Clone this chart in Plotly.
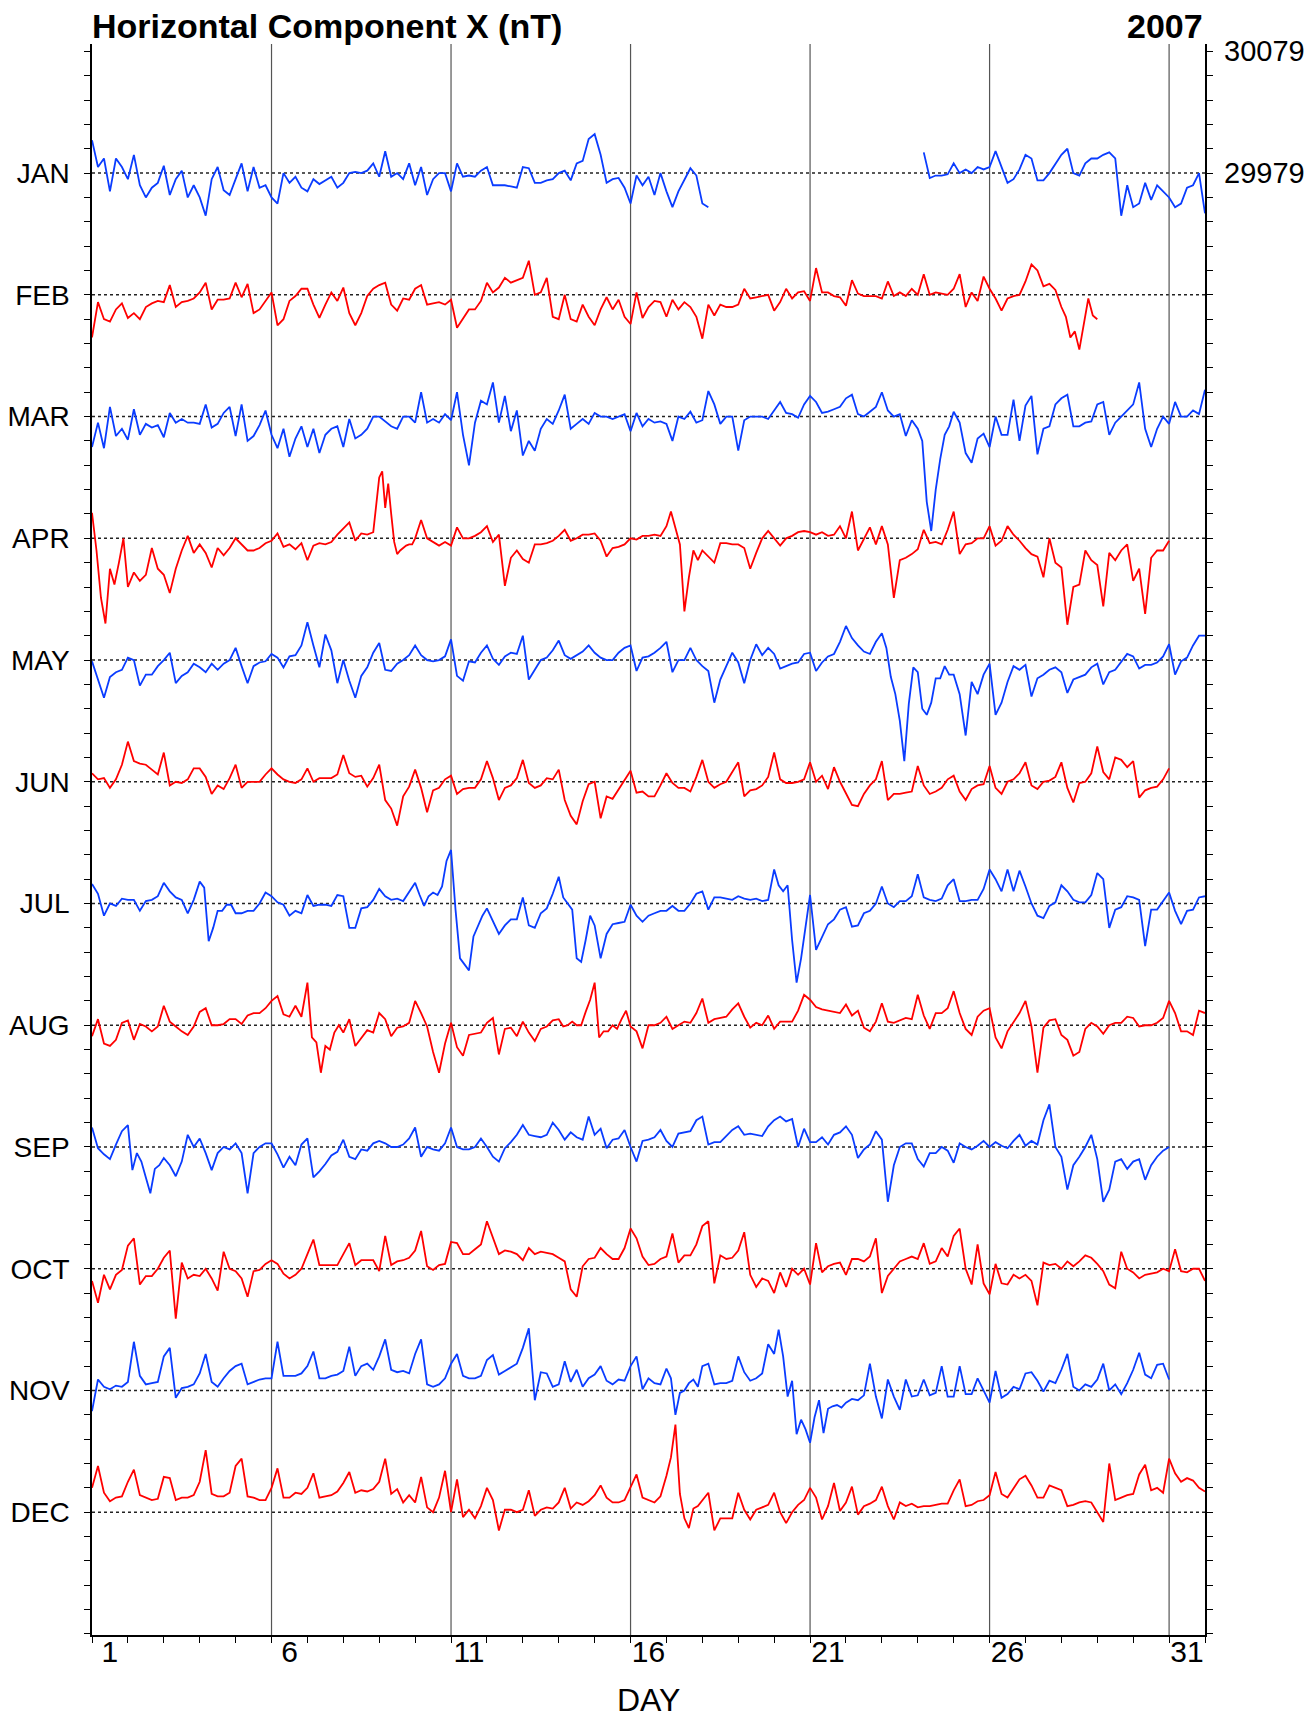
import plotly.graph_objects as go

# ---------------- data (nT deviation from each month's baseline, listed per day) -------------
MONTHS = ["JAN", "FEB", "MAR", "APR", "MAY", "JUN", "JUL", "AUG", "SEP", "OCT", "NOV", "DEC"]
YEAR = "2007"
REF_LABELS = ["30079", "29979"]
REF_VALUES = [100, 0]
DAY_LABELS = ["1", "6", "11", "16", "21", "26", "31"]
MONTH_STEP = 100  # nT between stacked months

JAN = [
    [27, 5, 12, -15, 12, 5], [-5, 15, -10, -20, -12, -8], [6, -18, -5, 2, -20, -10],
    [-20, -35, -5, 5, -14, -18], [-5, 8, -15, 5, -12, -10], [-20, -25, 0, -8, -3, -12],
    [-15, -5, -9, -6, -3, -12], [-8, 0, 1, 0, 2, 8], [-3, 18, -3, 0, -5, 8],
    [-10, 5, -18, -5, 0, 0], [-15, 8, -3, -2, -3, 2], [5, -10, -10, -10, -11, -12],
    [5, 4, -8, -8, -6, -5], [0, 2, -6, 8, 10, 28], [32, 15, -8, -5, -4, -12],
    [-25, -2, -10, -3, -18, 0], [-15, -28, -15, -5, 4, -2], [-25, -28, None, None, None, None],
    [None] * 6, [None] * 6, [None] * 6, [None] * 6, [None] * 6,
    [None, 17, -4, -2, -2, -1], [8, 0, 3, 0, 5, 3], [5, 18, 5, -8, -5, 3],
    [15, 12, -6, -6, 0, 8], [15, 20, 0, -2, 8, 12], [12, 15, 17, 12, -35, -10],
    [-28, -25, -8, -22, -10, -15], [-20, -28, -25, -12, -10, 0, -33],
]
FEB = [
    [-35, -6, -20, -22, -12, -7], [-19, -15, -20, -10, -7, -5], [-6, 8, -10, -6, -5, -3],
    [2, 10, -12, -4, -4, -3], [10, -2, 9, -15, -12, -5], [2, -25, -20, -5, -1, 5],
    [5, -8, -19, -8, 2, -5], [6, -15, -25, -15, -1, 5], [8, 10, -8, -13, -3, -4],
    [5, 8, -8, -7, -6, -8], [-4, -27, -20, -12, -12, -5], [10, 2, 6, 14, 10, 12],
    [14, 28, 0, 2, 14, -18], [-20, 0, -20, -22, -8, -18], [-25, -12, -2, -12, -4, -18],
    [-24, 2, -19, -10, -5, -6], [-18, -4, -12, -6, -10, -18], [-36, -8, -17, -8, -10, -10],
    [-8, 5, -3, -2, -1, 0], [-13, -6, 5, -3, 2, 3], [-5, 22, 2, 2, -1, -2],
    [-9, 12, 1, -1, -1, -1], [-3, 11, -1, 2, -1, 5], [0, 17, 0, 2, 1, 0],
    [5, 17, -10, 2, -5, 15], [5, -3, -13, -3, -1, 0], [11, 25, 20, 7, 9, 4],
    [-10, -18, -35, -30, -45, -25, -3, -17, -20],
]
MAR = [
    [-25, -5, -26, 8, -16, -10], [-19, 6, -15, -6, -9, -7], [-17, 3, -5, -2, -5, -5],
    [-6, 10, -9, -6, 3, 8], [-16, 10, -20, -16, -7, 5], [-15, -26, -10, -33, -18, -8],
    [-25, -10, -30, -15, -10, -8], [-25, -2, -18, -15, -10, 0], [0, -4, -8, -10, 0, 0],
    [-5, 20, -5, -2, -5, 2], [-3, 20, -15, -40, -5, 13], [10, 28, -5, 17, -12, 5],
    [-32, -20, -28, -10, -2, -6], [5, 18, -10, -6, -2, -6], [3, 0, 0, -2, 0, 2],
    [-12, 3, -8, -2, -5, -4], [-6, -20, 0, -2, 4, -5], [-3, 21, 10, -6, 0, 0],
    [-28, -3, 0, 0, 0, -2], [5, 12, 3, 2, -1, 10], [17, 12, 3, 4, 6, 8],
    [15, 18, 2, 0, 4, 8], [20, 5, 0, 2, -16, -3], [-10, -20, -70, -94, -60, -35, -15, -8],
    [4, -5, -30, -38, -18, -14], [-25, 0, -15, -15, 14, -20], [9, 17, -31, -10, -8, 10],
    [15, 18, -8, -8, -5, -4], [10, 12, -15, -5, 0, 5], [10, 28, -10, -25, -10, 0],
    [-6, 12, 0, 0, 5, 2, 22],
]
APR = [
    [21, -10, -49, -70, -25, -38, -20, 0], [-40, -28, -35, -30, -8, -25], [-30, -45, -25, -10, 2, -12],
    [-5, -12, -24, -8, -14, -8], [0, -5, -10, -10, -8, -4], [-2, 4, -7, -5, -9, -4],
    [-18, -6, -4, -5, -3, 3], [8, 13, -2, 4, 3, 5],
    [50, 55, 25, 45, 20, -3, -13, -10, -8, -6, -5, -5],
    [0, 15, 0, -3, -6, -3], [-6, 9, 0, 0, 2, 5], [10, -3, 3, -39, -16, -10],
    [-17, -20, -5, -5, -4, -2], [2, 7, -2, 0, 3, 3], [4, -2, -15, -8, -7, -5],
    [0, -1, 2, 2, 3, 2], [10, 22, 8, -5, -60, -32, -10, -18], [-10, -15, -20, -4, -4, -5],
    [-5, -8, -25, -12, 0, 6], [0, -6, 0, 2, 5, 6], [5, 3, 5, 2, 3, 10],
    [0, 22, -10, 0, 9, -5], [10, -5, -49, -18, -16, -13], [-9, 7, -4, -3, -5, 7],
    [22, -13, -5, -4, 0, 0], [10, -6, -2, 10, 3, -2], [-8, -13, -15, -32, 0, -20],
    [-24, -71, -40, -38, -10, -18], [-22, -56, -12, -18, -10, -5], [-35, -25, -62, -16, -10, -10, -2],
]
MAY = [
    [-1, -16, -31, -14, -10, -8], [2, 0, -21, -12, -12, -5], [0, 6, -19, -13, -10, -3],
    [-6, -10, -3, -8, -3, 0], [10, -5, -19, -5, -2, -1], [5, 2, -6, 3, 4, 12],
    [31, 12, -6, 21, 8, -19], [0, -17, -31, -13, -6, 6], [14, -8, -9, -3, 0, 4],
    [12, 4, 0, -1, 0, 3], [17, -13, -17, -1, -2, 6], [12, 1, -4, 3, 6, 5],
    [20, -16, -8, 0, 2, 8], [16, 4, 1, 4, 7, 12], [6, 2, 0, 0, 6, 10],
    [12, -9, 2, 3, 6, 10], [15, -10, 0, 0, 10, 0], [-5, -9, -35, -16, -5, 6],
    [-2, -19, 0, 13, 4, 10], [5, -7, -5, -3, -2, 5], [6, -9, -2, 3, 5, 15],
    [28, 18, 12, 7, 5, 15], [22, 10, -14, -28, -50, -83, -36, -6],
    [-10, -40, -45, -35, -15, -15, -5, -12], [-12, -28, -62, -18, -28, -12],
    [-3, -45, -35, -18, -5, -8], [-4, -30, -15, -12, -8, -6], [-10, -27, -16, -14, -12, -6],
    [-3, -20, -10, -8, -1, 5], [3, -7, -4, -4, -2, 3], [13, -12, -1, 2, 12, 20, 20],
]
JUN = [
    [7, 2, 3, -5, 2, 14], [33, 17, 15, 14, 10, 6], [24, -3, 0, -1, 2, 11],
    [11, 4, -10, -3, -6, 3], [14, -5, 0, 0, 0, 6], [11, 6, 2, 0, -1, 2],
    [11, 0, 3, 3, 3, 6], [22, 7, 4, 5, -4, 3], [14, -15, -22, -36, -12, -4],
    [10, -5, -25, -7, -5, 2], [5, -10, -6, -5, -5, 2], [17, 3, -15, -5, -3, 3],
    [18, -1, -5, -3, 3, 2], [10, -15, -28, -35, -16, -2], [0, -30, -12, -14, -6, 2],
    [9, -9, -8, -12, -12, -3], [7, -1, -5, -5, -8, 4], [18, 0, -5, -2, 0, 8],
    [16, -12, -7, -6, -3, 4], [24, 2, -1, -1, 0, 2], [16, 0, 5, -6, 12, 0],
    [-10, -19, -20, -10, -3, 2], [17, -15, -10, -10, -9, -8], [13, -3, -10, -8, -5, 2],
    [5, -8, -15, -6, -3, -2], [13, -5, -10, 0, 2, 7], [16, -3, -6, 0, 1, 4],
    [16, -5, -17, -1, 0, 7], [29, 8, 2, 20, 18, 12], [17, -13, -7, -5, -4, 2, 11],
]
JUL = [
    [16, 8, -10, 0, -2, 4], [3, 3, -6, 2, 3, 6], [17, 10, 5, 3, -8, 3],
    [18, 13, -31, -20, -6, -6, -1, -1], [-8, -8, -6, -6, 0, 9], [6, 1, -1, -10, -6, -8],
    [7, -2, -1, -1, -2, 7], [6, -20, -20, -4, -3, 3], [12, 6, 3, 4, 2, 9],
    [17, 7, -2, 6, 9, 7, 14, 35], [44, -5, -45, -50, -55, -27, -18, -10],
    [-4, -15, -25, -18, -13, -13], [5, -18, -20, -8, -4, 8],
    [22, 5, 0, -5, -45, -48, -30, -10], [-18, -45, -25, -17, -16, -15],
    [-1, -10, -15, -10, -8, -6], [-6, -2, -6, -6, 0, 8], [10, -5, 5, 5, 4, 3],
    [6, 4, 3, 4, 2, 3], [28, 15, 10, 15, -30, -65, -45, -18], [7, -38, -28, -17, -13, -5],
    [-3, -19, -18, -8, -6, 0], [14, 0, -3, 2, 2, 6], [24, 5, 3, 2, 4, 15],
    [20, 2, 2, 3, 3, 12], [28, 20, 10, 28, 10, 27], [14, 0, -10, -12, -2, 1],
    [15, 10, 3, 1, 1, 7], [25, 20, -20, -5, -3, 6], [5, 3, -35, -5, -5, 2],
    [9, -6, -17, -6, -5, 5, 6],
]
AUG = [
    [-9, 5, -15, -17, -12, 2], [4, -12, 1, -1, -5, -1], [16, 3, -1, -5, -8, -1],
    [11, 14, 0, 0, 1, 5], [5, 1, 8, 10, 10, 14], [20, 24, 9, 7, 16, 7],
    [35, -10, -14, -39, -17, -20, -6, 0], [-6, 5, -17, -10, -4, -6], [10, 5, -9, -2, -1, 2],
    [20, 10, -1, -22, -39, -15], [2, -18, -25, -8, -7, -6], [2, 6, -24, -3, -2, -9],
    [3, -6, -13, -3, -1, 4], [5, -1, 0, 3, 0, 0, 11, 21], [35, -10, -5, -5, 0, -3, 5, 12],
    [-1, -5, -19, 0, 0, 2], [7, -3, 0, 3, 2, 10], [22, 2, 5, 6, 7, 13],
    [18, 7, -2, 2, 0, 8], [-3, 3, 3, 3, 12, 25], [21, 15, 13, 12, 11, 10],
    [17, 8, 12, -2, -5, 3], [18, 3, 2, 4, 6, 5], [25, 8, -3, 10, 10, 14],
    [28, 10, -3, -8, 7, 12], [14, -10, -19, -5, 3, 10], [20, -1, -39, -2, 4, 5],
    [-8, -12, -25, -22, -3, 2], [-1, -7, 0, 2, 2, 7], [6, -1, 0, 0, 2, 6],
    [20, 10, -5, -5, -8, 12, 10],
]
SEP = [
    [16, -1, -6, -10, 2, 13], [18, -19, -5, -12, -25, -38, -18, -15], [-9, -15, -24, -12, 10, 0],
    [7, -5, -19, -5, 0, -2], [3, -5, -38, -5, 0, 3], [3, -6, -17, -8, -15, 2],
    [7, -25, -20, -14, -7, -4], [6, -8, -10, -2, -3, 3], [5, 3, 0, 0, 2, 7],
    [16, -8, 0, -2, -3, 3], [16, 0, -2, -2, 0, 7], [0, -8, -12, -1, 4, 10],
    [18, 10, 9, 8, 10, 20], [14, 6, 12, 8, 6, 25], [10, 15, -1, 6, 7, 14],
    [0, -12, 5, 6, 8, 14], [5, 0, 11, 12, 13, 22], [25, 2, 4, 4, 9, 14],
    [17, 10, 11, 10, 9, 17], [22, 25, 21, 23, 0, 15], [4, 4, 8, 2, 10, 12],
    [17, 10, -9, -2, 2, 13], [6, -45, -15, 0, 3, 3], [-10, -16, -5, -5, 0, -3],
    [-13, 3, 0, -2, 1, 5], [0, 4, 1, -1, 5, 10], [1, 5, 2, 22, 35, 0],
    [-8, -35, -15, -8, 0, 10], [-10, -45, -35, -12, -10, -18], [-12, -10, -27, -15, -8, -3, 0],
]
OCT = [
    [-10, -28, -5, -17, -5, -1], [19, 25, -13, -6, -6, 0], [9, 15, -41, 5, -8, -5],
    [-6, 0, -8, -18, 14, 0], [-2, -8, -23, -2, -1, 4], [7, 4, -4, -8, -5, 0],
    [12, 24, 3, 3, 3, 3], [12, 21, 3, 7, 7, 7], [-2, 27, 3, 6, 7, 9],
    [15, 31, 2, -1, 3, 4], [22, 21, 12, 12, 16, 20], [39, 25, 12, 15, 14, 12],
    [7, 17, 12, 14, 13, 12], [9, 6, -17, -23, 2, 8], [9, 17, 12, 8, 8, 17],
    [33, 25, 10, 3, 4, 8], [10, 29, 5, 11, 11, 20], [35, 39, -12, 11, 8, 9],
    [15, 30, -5, -15, -8, -10], [-20, -3, -15, 0, -5, 0], [-13, 21, -3, 2, 4, 5],
    [-5, 8, 8, 6, 10, 25], [-20, -6, 0, 6, 8, 10], [8, 21, 4, 6, 17, 10],
    [27, 33, 0, -13, 20, -12], [-21, 4, -12, -13, -5, -8], [-5, -10, -30, 5, 3, 4],
    [0, 6, 2, 6, 11, 9], [4, -2, -13, -16, 14, 0], [-3, -8, -5, -4, -3, 0],
    [-2, 16, -2, -3, 0, 0, -10],
]
NOV = [
    [-17, 9, 3, 1, 4, 3], [7, 40, 12, 5, 6, 7], [28, 35, -6, 2, 3, 5],
    [14, 30, 7, 3, 10, 16], [20, 22, 5, 7, 9, 10], [10, 40, 12, 12, 12, 14],
    [20, 32, 10, 10, 12, 13], [16, 36, 12, 20, 22, 17], [28, 42, 17, 15, 16, 14],
    [30, 42, 5, 3, 5, 10], [22, 30, 12, 10, 10, 12], [25, 29, 13, 16, 19, 22],
    [35, 51, -8, 15, 14, 3], [5, 24, 7, 17, 3, 10], [13, 20, 8, 5, 9, 8],
    [20, 28, 1, 10, 6, 5], [18, 10, -20, -2, 0, 6, 9, 3], [20, 22, 5, 6, 6, 8],
    [28, 15, 8, 10, 14, 38], [30, 50, 28, -5, 8, -36, -24, -32],
    [-43, -22, -8, -35, -15, -13, -12, -14], [-10, -7, -8, -4, 22, -5],
    [-23, 9, -5, -16, 9, -5], [-4, 9, -4, -2, 20, -5], [-5, 20, -3, -3, 10, 0],
    [-10, 16, -6, -3, 3, 1], [14, 15, 8, -1, 8, 6], [17, 30, 3, 0, 5, 3],
    [9, 22, 0, 5, -3, 6], [17, 31, 13, 10, 21, 22, 9],
]
DEC = [
    [20, 38, 16, 9, 12, 13], [25, 35, 14, 12, 10, 11], [29, 28, 10, 12, 12, 14],
    [25, 51, 15, 13, 13, 16], [38, 44, 13, 12, 10, 10], [20, 36, 12, 12, 16, 15],
    [20, 32, 12, 13, 14, 17], [24, 33, 16, 18, 17, 19], [25, 44, 15, 19, 8, 14],
    [8, 29, 4, 0, 12, 34], [0, 27, -4, 2, -5, 5], [20, 10, -15, 2, 2, 0],
    [2, 18, -3, 2, 4, 3], [8, 20, 3, 8, 6, 9], [14, 22, 12, 8, 8, 10],
    [20, 31, 12, 10, 8, 13], [30, 45, 72, 15, -5, -13, 3, 5], [10, 16, -15, -5, -5, -5],
    [16, 2, -6, 2, 4, 6], [16, 0, -9, 0, 6, 10], [20, 12, -6, 5, 24, 1],
    [8, 21, -2, 5, 7, 10], [21, 5, -6, 8, 5, 7], [4, 5, 5, 6, 7, 7],
    [18, 27, 5, 6, 9, 10], [14, 33, 15, 12, 20, 27], [30, 22, 12, 12, 22, 20],
    [18, 5, 6, 8, 9, 8], [0, -8, 40, 10, 12, 14], [15, 31, 39, 18, 20, 16],
    [44, 32, 25, 28, 26, 20, 17],
]
SERIES = [JAN, FEB, MAR, APR, MAY, JUN, JUL, AUG, SEP, OCT, NOV, DEC]

# ---------------- styling ----------------
BLUE = "#0a3cff"
RED = "#ff0000"
FONT = "Liberation Sans, Arial, sans-serif"
W, H = 1316, 1718
PAGE_OFF = 8                      # default body margin of the html page
L, R, T, B = 92, 1205, 44, 1635   # plot box in page pixels
PX_PER_NT = (1512.2 - 173.1) / 1100.0
Y_MAX = (173.1 - T) / PX_PER_NT
Y_MIN = -1100 - (B - 1512.2) / PX_PER_NT
N_DAYS = 31


def expand(days):
    t, v = [], []
    last = len(days) - 1
    for d, vals in enumerate(days):
        n = len(vals)
        for k, val in enumerate(vals):
            frac = k / (n - 1) if d == last else k / n
            t.append(d + frac)
            v.append(val)
    return t, v


fig = go.Figure()
for m, days in enumerate(SERIES):
    t, v = expand(days)
    off = -MONTH_STEP * m
    y = [None if val is None else val + off for val in v]
    fig.add_trace(go.Scatter(
        x=t, y=y, mode="lines", connectgaps=False, hoverinfo="skip",
        line=dict(color=BLUE if m % 2 == 0 else RED, width=1.8),
    ))

shapes = []
for m in range(len(MONTHS)):
    shapes.append(dict(type="line", xref="paper", yref="y", x0=0, x1=1,
                       y0=-MONTH_STEP * m, y1=-MONTH_STEP * m, layer="below",
                       line=dict(color="#222", width=1.5, dash="dot")))
for d in range(5, N_DAYS, 5):
    shapes.append(dict(type="line", xref="x", yref="paper", x0=d, x1=d, y0=0, y1=1,
                       layer="below", line=dict(color="#555", width=1.2)))

yt = list(range(-1200, 101, 20))
ytext = []
for v in yt:
    lab = ""
    for m, name in enumerate(MONTHS):
        if v == -MONTH_STEP * m:
            lab = name
    ytext.append(lab)

annotations = [
    dict(text="<b>Horizontal Component X (nT)</b>", xref="paper", yref="paper", x=0, y=1,
         xanchor="left", yanchor="middle", yshift=T - 26, xshift=-2, showarrow=False,
         font=dict(family=FONT, size=34, color="black")),
    dict(text="<b>" + YEAR + "</b>", xref="paper", yref="paper", x=1, y=1,
         xanchor="right", yanchor="middle", yshift=T - 26, showarrow=False,
         font=dict(family=FONT, size=34, color="black")),
    dict(text="DAY", xref="paper", yref="paper", x=0.5, y=0, xanchor="center",
         yanchor="middle", yshift=-(1700 - B), showarrow=False,
         font=dict(family=FONT, size=32, color="black")),
]
for lab, val in zip(REF_LABELS, REF_VALUES):
    annotations.append(dict(text=lab, xref="paper", yref="y", x=1, y=val, xanchor="left",
                            yanchor="middle", xshift=17, showarrow=False,
                            font=dict(family=FONT, size=29, color="black")))

fig.update_layout(
    width=W, height=H,
    margin=dict(l=L - PAGE_OFF, r=W - (R - PAGE_OFF), t=T - PAGE_OFF,
                b=H - (B - PAGE_OFF), autoexpand=False),
    plot_bgcolor="white", paper_bgcolor="white", showlegend=False,
    shapes=shapes, annotations=annotations,
    xaxis=dict(range=[0, N_DAYS], tickmode="array", automargin=False,
               tickvals=[i + 0.5 for i in range(0, N_DAYS, 5)], ticktext=DAY_LABELS,
               ticks="", showgrid=False, zeroline=False, showline=True,
               linecolor="black", linewidth=1.5, ticklabelstandoff=-11,
               tickfont=dict(family=FONT, size=30, color="black"),
               minor=dict(tickmode="linear", tick0=0, dtick=1, ticks="outside",
                          ticklen=6, tickwidth=1, tickcolor="black", showgrid=False)),
    yaxis=dict(range=[Y_MIN, Y_MAX], tickmode="array", tickvals=yt, ticktext=ytext,
               automargin=False,
               ticks="outside", ticklen=6, tickwidth=1, tickcolor="black",
               showgrid=False, zeroline=False, showline=True, linecolor="black",
               linewidth=1.5, mirror="ticks", ticklabelstandoff=9,
               tickfont=dict(family=FONT, size=28, color="black")),
)

fig.write_html("out.html")
